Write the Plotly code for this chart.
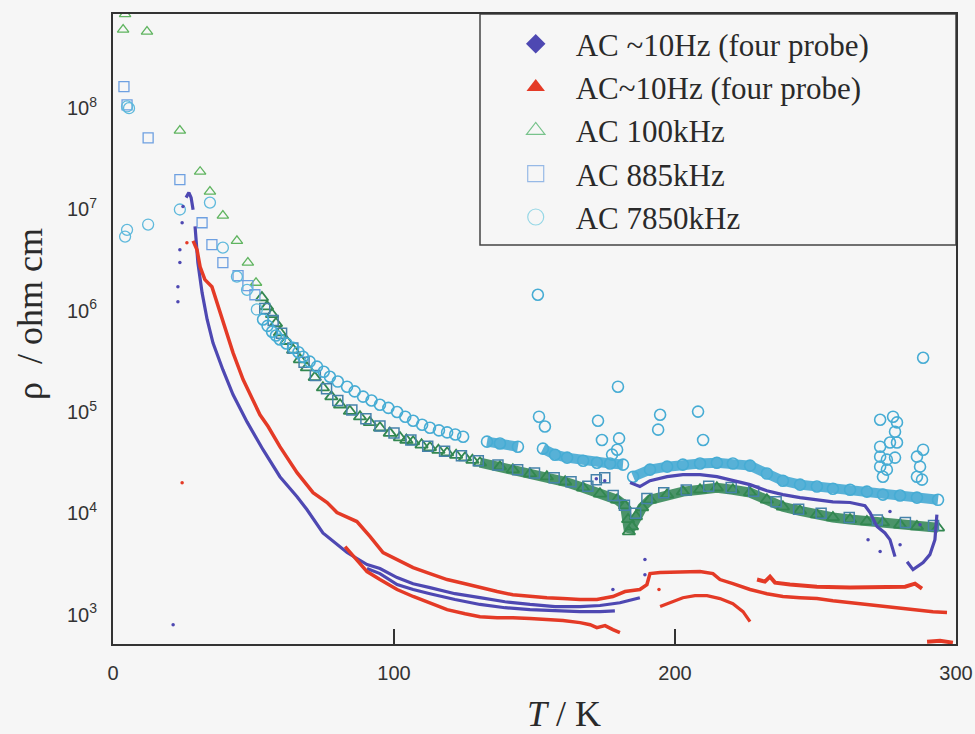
import plotly.graph_objects as go

# ---------------- data ----------------
# AC ~10Hz (four probe) - blue diamonds
blue_main_T = [26.0, 27.0, 27.8, 28.5, None, 29.2, 30.2, 31.7, 33.5, 35.6, 39.1, 42.7, 47.7, 53.4, 59.4, 65.5, 69.0, 74.7, 83.3,
               90.4, 95.0, 101.1, 106.8, 112.8, 121.7, 130.6, 139.5, 148.4, 157.3, 166.2, 173.3, 180.4, 187.5]
blue_main_rho = [1.31e7, 1.47e7, 1.31e7, 9.96e6, None, 6.8e6, 2.99e6, 1.51e6, 8.2e5, 4.8e5, 2.62e5, 1.49e5, 8.0e4, 4.25e4, 2.30e4,
                 1.46e4, 1.09e4, 6.4e3, 4.1e3, 3.12e3, 2.85e3, 2.32e3, 2.02e3, 1.85e3, 1.61e3, 1.47e3, 1.34e3, 1.26e3, 1.20e3,
                 1.20e3, 1.23e3, 1.31e3, 1.47e3]
blue_lower_T = [90.4, 95.0, 101.1, 106.8, 112.8, 121.7, 130.6, 139.5, 148.4, 157.3, 166.2, 173.3, 178.6]
blue_lower_rho = [2.85e3, 2.54e3, 1.98e3, 1.77e3, 1.61e3, 1.41e3, 1.26e3, 1.17e3, 1.12e3, 1.09e3, 1.07e3, 1.07e3, 1.09e3]
blue_high_T = [184.0, 187.5, 191.1, 197.2, 202.8, 208.9, 214.9, 220.6, 226.7, 232.7, 238.4, 244.5, 250.5, 256.2, 262.3, 267.6,
               269.4, 271.9, 274.7, 276.5, 278.3, None, 282.6, 284.7, 288.3, 290.7, 292.5, 293.2]
blue_high_rho = [2.01e4, 1.84e4, 2.10e4, 2.30e4, 2.41e4, 2.41e4, 2.30e4, 2.10e4, 1.92e4, 1.67e4, 1.53e4, 1.43e4, 1.36e4, 1.30e4,
                 1.28e4, 1.19e4, 1.02e4, 7.4e3, 6.4e3, 5.5e3, 3.74e3, None, 3.33e3, 2.78e3, 3.26e3, 3.91e3, 5.5e3, 9.7e3]
blue_dots_T = [21.4, 23.1, 23.1, 23.8, 23.8, 24.6, 24.9, 189.3, 189.3, 177.9, 268.7, 273.0, 280.1, 276.5, 287.2, 172.0, 175.0]
blue_dots_rho = [796, 1.23e6, 1.73e6, 2.99e6, 4.0e6, 7.4e6, 1.07e7, 3.5e3, 2.48e3, 1.77e3, 5.5e3, 4.2e3, 4.9e3, 1.04e4, 7.7e3,
                 2.2e4, 2.1e4]

# AC~10Hz (four probe) - red triangles
red_upper_T = [28.5, 29.9, 31.0, 32.7, 35.2, 38.1, 40.6, 42.7, 46.3, 49.8, 52.3, 55.2, 59.4, 65.5, 71.2, 76.2, 79.7, 86.8, 91.5,
               96.1, 101.1, 106.8, 112.8, 118.9, 125.3, 130.6, 136.7, 142.3, 148.4, 154.4, 160.1, 166.2, 172.2, 177.9, 182.2,
               187.5, 190.0, 191.1, 194.7, 202.8, 208.9, 213.5, 216.0, 220.6, 226.7, 232.7, 238.4, 244.5, 250.5, 256.2,
               262.3, 268.3, 274.0, 280.1, 286.1, 291.8, 296.8]
red_upper_rho = [4.9e6, 4.0e6, 2.72e6, 2.03e6, 1.73e6, 9.6e5, 6.1e5, 3.86e5, 2.09e5, 1.32e5, 9.4e4, 7.2e4, 4.55e4, 2.52e4, 1.60e4,
                 1.28e4, 1.02e4, 8.3e3, 5.9e3, 4.1e3, 3.49e3, 2.91e3, 2.54e3, 2.22e3, 2.02e3, 1.85e3, 1.69e3, 1.57e3, 1.51e3,
                 1.47e3, 1.44e3, 1.41e3, 1.41e3, 1.51e3, 1.69e3, 1.77e3, 1.98e3, 2.54e3, 2.60e3, 2.66e3, 2.66e3, 2.54e3,
                 2.22e3, 2.02e3, 1.77e3, 1.61e3, 1.51e3, 1.47e3, 1.44e3, 1.37e3, 1.31e3, 1.26e3, 1.20e3, 1.15e3, 1.12e3,
                 1.07e3, 1.05e3]
red_lower_T = [82.6, 90.4, 95.0, 101.1, 106.8, 112.8, 118.9, 125.3, 130.6, 136.7, 142.3, 148.4, 154.4, 160.1, 166.2, 169.8,
               172.2, 175.1, 177.9, 180.4]
red_lower_rho = [4.7e3, 2.66e3, 2.22e3, 1.77e3, 1.51e3, 1.31e3, 1.12e3, 1.02e3, 955, 933, 933, 914, 893, 873, 834, 796, 745,
                 778, 711, 664]
red_arc_T = [194.7, 198.9, 202.8, 207.1, 211.4, 216.0, 220.6, 224.2, 226.7]
red_arc_rho = [1.20e3, 1.34e3, 1.47e3, 1.54e3, 1.54e3, 1.44e3, 1.28e3, 1.07e3, 853]
red_noisy_T = [229.2, 232.0, 233.8, 235.6, 240.9, 250.5, 262.3, 274.0, 281.9, 285.4, 287.9]
red_noisy_rho = [2.22e3, 2.12e3, 2.37e3, 2.07e3, 1.98e3, 1.89e3, 1.85e3, 1.89e3, 1.89e3, 2.02e3, 1.81e3]
red_bottom_T = [289.7, 294.3, 298.9]
red_bottom_rho = [541, 553, 529]
red_dots_T = [24.6, 194.3, 26.3]
red_dots_rho = [2.01e4, 1.77e3, 4.7e6]

# AC 100kHz - green open triangles
green_sparse_T = [4.3, 3.6, 12.1, 23.8, 31.0, 34.5, 39.1, 44.1, 48.0, 50.9]
green_sparse_rho = [8.5e8, 5.96e8, 5.7e8, 6.0e7, 2.36e7, 1.50e7, 8.7e6, 4.9e6, 2.99e6, 1.89e6]
green_band_T = [53.0, 54.8, 56.6, 58.0, 59.4, 61.7, 64.1, 66.5, 69.0, 71.8, 74.7, 77.7, 80.8, 84.3, 87.9, 91.4, 95.0, 98.5,
                102.1, 104.4, 106.8, 109.8, 112.8, 115.8, 118.9, 122.1, 125.3, 127.9, 130.6, 137.7,
                142.3, 148.4, 154.4, 160.9, 167.3, 173.3, 179.4, 182.2, 183.3, 183.6, 184.7, 186.1, 188.3, 191.1, 197.2,
                202.8, 208.9, 214.9, 220.6, 226.7, 232.7, 238.4, 244.5, 250.5, 256.2, 262.3, 268.3, 274.0, 280.1, 286.1, 293.6]
green_band_rho = [1.35e6, 1.1e6, 9.2e5, 7.5e5, 6.1e5, 5.0e5, 4.1e5, 3.3e5, 2.74e5, 2.2e5, 1.74e5, 1.42e5, 1.18e5, 1.02e5,
                  9.0e4, 7.9e4, 7.0e4, 6.2e4, 5.6e4, 5.3e4, 5.1e4, 4.75e4, 4.46e4, 4.2e4, 3.97e4, 3.75e4, 3.55e4, 3.35e4,
                  3.16e4, 2.89e4, 2.70e4, 2.46e4, 2.30e4, 2.05e4, 1.79e4, 1.56e4, 1.36e4, 1.19e4, 8.7e3, 6.6e3, 7.4e3, 9.3e3,
                  1.14e4, 1.36e4, 1.53e4, 1.64e4, 1.71e4, 1.79e4, 1.71e4, 1.60e4, 1.36e4, 1.16e4, 1.06e4, 9.7e3, 9.1e3,
                  8.7e3, 8.3e3, 8.1e3, 7.7e3, 7.4e3, 7.2e3]

# AC 885kHz - open squares
sq_sparse_T = [3.9, 5.0, 12.5, 23.8, 31.7, 35.2, 39.1, 44.5, 48.0, 50.5]
sq_sparse_rho = [1.63e8, 1.08e8, 5.1e7, 1.97e7, 7.4e6, 4.5e6, 2.99e6, 2.22e6, 1.77e6, 1.44e6]
sq_band_T = [54, 57, 60, 64, 68, 72, 76, 80, 85, 90, 95, 100, 106, 112, 118, 124, 130, 137, 144, 150, 157, 163, 169, 172,
             175, 178, 182, 186, 190, 196, 204, 212, 220, 228, 236, 244, 252, 262, 272, 282, 292]
sq_band_rho = [1.05e6, 8.0e5, 6.0e5, 4.3e5, 3.1e5, 2.3e5, 1.7e5, 1.3e5, 1.05e5, 8.6e4, 7.3e4, 6.2e4, 5.3e4, 4.6e4, 4.1e4,
               3.7e4, 3.3e4, 3.0e4, 2.7e4, 2.5e4, 2.25e4, 2.05e4, 1.85e4, 2.15e4, 2.25e4, 1.5e4, 1.2e4, 1.0e4, 1.4e4,
               1.6e4, 1.7e4, 1.85e4, 1.8e4, 1.65e4, 1.3e4, 1.1e4, 1.0e4, 9.1e3, 8.6e3, 8.1e3, 7.6e3]

# AC 7850kHz - open circles
circ_sparse_T = [5.0, 5.7, 5.0, 4.3, 12.5, 23.8, 34.5, 39.1, 44.1, 47.7, 51.2]
circ_sparse_rho = [1.04e8, 1.0e8, 6.3e6, 5.4e6, 7.1e6, 1.0e7, 1.17e7, 4.2e6, 2.17e6, 1.61e6, 1.03e6]
circ_band_T = [53.4, 55.0, 56.6, 58.0, 59.4, 61.7, 64.1, 66.0, 67.6, 70.0, 72.6, 75.0, 77.2, 80.0, 83.3, 86.0, 89.0, 92.0,
               95.0, 98.0, 101.1, 104.0, 106.8, 110.0, 112.8, 116.0, 118.9, 121.8, 124.6, None, 133.1,
               137.7, 144.1, None, 153.0, 157.3, 161.6, 167.3, 172.2, 176.9, 181.5, None, 185.1, 191.1, 197.2, 202.8,
               208.9, 214.9, 220.6, 226.7, 232.7, 238.4, 244.5, 250.5, 256.2, 262.3, 268.3, 274.0, 280.1, 286.1, 293.6]
circ_band_rho = [8.2e5, 7.1e5, 6.2e5, 5.7e5, 5.2e5, 4.75e5, 4.3e5, 3.9e5, 3.52e5, 3.15e5, 2.81e5, 2.5e5, 2.23e5, 2.0e5,
                 1.78e5, 1.6e5, 1.42e5, 1.3e5, 1.18e5, 1.1e5, 1.0e5, 9.0e4, 8.2e4, 7.5e4, 7.0e4, 6.6e4, 6.3e4, 6.0e4,
                 5.7e4, None, 5.1e4, 4.9e4, 4.55e4, None, 4.35e4, 3.79e4, 3.55e4, 3.31e4, 3.16e4, 3.1e4, 3.03e4, None,
                 2.30e4, 2.70e4, 2.89e4, 3.03e4, 3.1e4, 3.16e4, 3.1e4, 2.96e4, 2.47e4, 2.10e4, 1.92e4, 1.84e4, 1.75e4,
                 1.71e4, 1.64e4, 1.53e4, 1.50e4, 1.43e4, 1.36e4]
circ_out_T = [151.2, 151.6, 153.7, 179.7, 172.6, 174.0, 180.1, 179.4, 177.6, 194.7, 194.0, 208.2, 210.0, 288.3,
              273.0, 277.6, 279.0, 278.3, 273.0, 276.5, 279.0, 273.0, 275.4, 278.3, 273.0, 275.4, 274.0,
              288.3, 286.1, 287.2, 286.1, 287.9]
circ_out_rho = [1.44e6, 9.0e4, 7.2e4, 1.78e5, 8.2e4, 5.3e4, 5.5e4, 4.25e4, 3.8e4, 9.4e4, 6.7e4, 1.01e5, 5.3e4, 3.44e5,
                8.4e4, 9.0e4, 7.9e4, 6.4e4, 4.55e4, 5.0e4, 5.0e4, 3.63e4, 3.39e4, 3.55e4, 2.89e4, 2.70e4, 2.30e4,
                4.25e4, 3.63e4, 2.89e4, 2.30e4, 2.15e4]

legend_names = ["AC ~10Hz (four probe)", "AC~10Hz (four probe)", "AC 100kHz", "AC 885kHz", "AC 7850kHz"]
x_ticks = [0, 100, 200, 300]
y_ticks = [1e3, 1e4, 1e5, 1e6, 1e7, 1e8]
y_ticktext = ["10<sup>3</sup>", "10<sup>4</sup>", "10<sup>5</sup>", "10<sup>6</sup>", "10<sup>7</sup>", "10<sup>8</sup>"]

# ---------------- styles ----------------
BLUE = "rgb(78,72,178)"
RED = "rgb(228,58,38)"
GREEN_BAND = "rgba(45,130,80,0.85)"
SQ = "rgb(110,160,225)"
CYAN = "rgb(70,172,212)"
CYAN_BAND = "rgba(70,170,212,0.9)"

fig = go.Figure()


def line_trace(x, y, color, width, group):
    fig.add_trace(go.Scatter(x=x, y=y, mode="lines", line=dict(color=color, width=width),
                             legendgroup=group, showlegend=False, connectgaps=False, hoverinfo="skip"))


def mk_trace(x, y, color, symbol, size, group, lw=1.3):
    fig.add_trace(go.Scatter(x=x, y=y, mode="markers",
                             marker=dict(symbol=symbol, size=size, color=color, line=dict(color=color, width=lw)),
                             legendgroup=group, showlegend=False, hoverinfo="skip"))


# band underlays (dense parts)
line_trace([t for t in green_band_T if t >= 130], [r for t, r in zip(green_band_T, green_band_rho) if t >= 130],
           GREEN_BAND, 10, "g")
line_trace(circ_band_T[30:], circ_band_rho[30:], CYAN_BAND, 10, "c")

# green triangles
mk_trace(green_sparse_T, green_sparse_rho, "rgb(95,180,95)", "triangle-up-open", 10, "g")
mk_trace(green_band_T, green_band_rho, "rgb(50,135,80)", "triangle-up-open", 11, "g", 1.8)
# squares
mk_trace(sq_sparse_T, sq_sparse_rho, SQ, "square-open", 10, "s")
mk_trace(sq_band_T, sq_band_rho, "rgb(70,130,170)", "square-open", 10, "s", 1.5)
# circles
mk_trace(circ_sparse_T, circ_sparse_rho, "rgb(95,185,220)", "circle-open", 11, "c")
mk_trace(circ_band_T, circ_band_rho, CYAN, "circle-open", 11, "c", 1.6)
mk_trace(circ_out_T, circ_out_rho, CYAN, "circle-open", 11, "c", 1.6)

# blue
line_trace(blue_main_T, blue_main_rho, BLUE, 3.2, "b")
line_trace(blue_lower_T, blue_lower_rho, BLUE, 3.2, "b")
line_trace(blue_high_T, blue_high_rho, BLUE, 3.2, "b")
mk_trace(blue_dots_T, blue_dots_rho, BLUE, "circle", 3.5, "b", 0)
# red
line_trace(red_upper_T, red_upper_rho, RED, 3.5, "r")
line_trace(red_lower_T, red_lower_rho, RED, 3.5, "r")
line_trace(red_arc_T, red_arc_rho, RED, 3.2, "r")
line_trace(red_noisy_T, red_noisy_rho, RED, 4, "r")
line_trace(red_bottom_T, red_bottom_rho, RED, 4, "r")
mk_trace(red_dots_T, red_dots_rho, RED, "circle", 3.5, "r", 0)

# legend entries
leg_styles = [
    dict(symbol="diamond", color=BLUE, line=dict(color=BLUE, width=0), size=15),
    dict(symbol="triangle-up", color=RED, line=dict(color=RED, width=0), size=17),
    dict(symbol="triangle-up-open", color="rgb(120,195,140)", line=dict(color="rgb(120,195,140)", width=1.2), size=17),
    dict(symbol="square-open", color="rgb(150,185,230)", line=dict(color="rgb(150,185,230)", width=1.2), size=16),
    dict(symbol="circle-open", color="rgb(150,215,230)", line=dict(color="rgb(150,215,230)", width=1.2), size=17),
]
for name, st, grp in zip(legend_names, leg_styles, ["b", "r", "g", "s", "c"]):
    fig.add_trace(go.Scatter(x=[None], y=[None], mode="markers", name=name, marker=st, legendgroup=grp,
                             showlegend=True))

AX = "#333333"
fig.update_layout(
    width=975, height=734, autosize=False,
    margin=dict(l=113, r=19, t=14, b=90, autoexpand=False),
    paper_bgcolor="#f6f6f6", plot_bgcolor="#f6f6f6",
    showlegend=True,
    legend=dict(x=0.454, y=0.995, xanchor="left", yanchor="top", bgcolor="rgba(0,0,0,0)",
                font=dict(family="Liberation Serif, Times New Roman, serif", size=31, color="#2a2a2a"),
                itemwidth=70, tracegroupgap=0, traceorder="normal"),
    xaxis=dict(range=[0, 300], tickvals=x_ticks, ticks="inside", ticklen=15, tickwidth=2, tickcolor=AX,
               showline=True, linecolor=AX, linewidth=2, mirror=True, showgrid=False, zeroline=False,
               automargin=False,
               tickfont=dict(family="Liberation Sans, Arial, sans-serif", size=20, color="#333"),
               ticklabelstandoff=10),
    yaxis=dict(type="log", range=[2.71, 8.93], tickvals=y_ticks, ticktext=y_ticktext, ticks="",
               showline=True, linecolor=AX, linewidth=2, mirror=True, showgrid=False, zeroline=False,
               automargin=False,
               tickfont=dict(family="Liberation Sans, Arial, sans-serif", size=20, color="#333"),
               ticklabelstandoff=10),
    shapes=[dict(type="rect", xref="paper", yref="paper", x0=(480 - 113) / 843, x1=1.0, y0=(644 - 245) / 630, y1=1.0,
                 line=dict(color="#444", width=1.5), fillcolor="rgba(0,0,0,0)", layer="below")],
    annotations=[
        dict(text="<i>T</i> / K", xref="paper", yref="paper", x=(564 - 113) / 843, y=(644 - 714) / 630,
             showarrow=False, xanchor="center", yanchor="middle",
             font=dict(family="Liberation Serif, Times New Roman, serif", size=36, color="#2a2a2a")),
        dict(text="ρ  / ohm cm", xref="paper", yref="paper", x=(30 - 113) / 843, y=(644 - 314) / 630,
             showarrow=False, textangle=-90, xanchor="center", yanchor="middle",
             font=dict(family="Liberation Serif, Times New Roman, serif", size=36, color="#2a2a2a")),
    ],
)

post = ("document.documentElement.style.overflow='hidden';"
        "document.body.style.margin='0';document.body.style.padding='0';document.body.style.overflow='hidden';"
        "var gd=document.getElementById('{plot_id}');gd.style.width='975px';gd.style.height='734px';"
        "Plotly.relayout(gd,{width:975,height:734});")
fig.write_html("out.html", config={"displayModeBar": False, "responsive": False}, post_script=post)
